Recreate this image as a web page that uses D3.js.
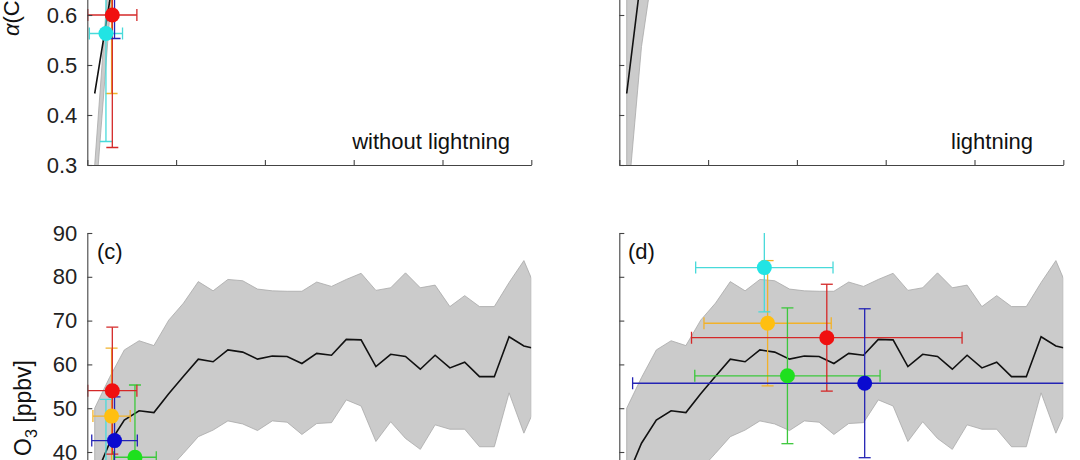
<!DOCTYPE html>
<html><head><meta charset="utf-8">
<script src="https://cdn.jsdelivr.net/npm/d3@7"></script>
<style>
body{margin:0;background:#fff}
text{font-family:"Liberation Sans",Arial,Helvetica,sans-serif}
</style>
</head><body>
<svg id="fig" width="1080" height="460"></svg>
<script>
// ---------- data ----------
const xTicks = [0, 30, 60, 90, 120, 150];
const alphaTicks = [0.3, 0.4, 0.5, 0.6];
const o3Ticks = [40, 50, 60, 70, 80, 90];

// O3 model band (same in c and d)
const binX = [2.5, 7.5, 12.5, 17.5, 22.5, 27.5, 32.5, 37.5, 42.5, 47.5, 52.5, 57.5, 62.5, 67.5, 72.5,
  77.5, 82.5, 87.5, 92.5, 97.5, 102.5, 107.5, 112.5, 117.5, 122.5, 127.5, 132.5, 137.5, 142.5, 147.5, 150];
const o3Mean = [34, 42, 47.3, 49.4, 49.0, 53.3, 57.3, 61.2, 60.6, 63.3, 62.8, 61.2, 61.9, 61.8, 60.2,
  62.5, 62.1, 65.7, 65.6, 59.5, 62.3, 61.8, 58.9, 62.1, 59.2, 60.5, 57.2, 57.2, 66.3, 64.2, 63.8];
const o3Hi = [50.0, 57.0, 63.3, 65.4, 64.3, 70.1, 74.0, 78.9, 76.8, 79.4, 79.1, 77.2, 76.8, 76.7, 76.7,
  78.8, 77.8, 79.4, 80.8, 76.9, 77.5, 80.9, 77.5, 78.1, 73.2, 75.7, 73.2, 73.2, 78.7, 83.7, 79.7];
const o3Lo = [30.0, 30.5, 31.5, 33.0, 34.5, 36.0, 39.7, 43.5, 45.0, 47.1, 46.4, 44.9, 47.1, 46.8, 44.0,
  46.5, 46.7, 51.9, 50.5, 42.4, 46.9, 43.1, 40.6, 46.2, 45.2, 45.2, 41.2, 41.2, 53.5, 44.3, 48.1];

// alpha band (top panels, only the start is inside the picture)
const alphaX = [2.5, 7.5, 12.5, 17.5, 22.5, 27.5];
const alphaMeanNo = [0.443, 0.625, 0.85, 0.88, 0.90, 0.91];
const alphaHiNo   = [0.300, 0.706, 0.95, 0.98, 1.00, 1.01];
const alphaLoNo   = [0.208, 0.592, 0.80, 0.84, 0.86, 0.87];
const alphaMeanL  = [0.443, 0.683, 0.86, 0.90, 0.92, 0.93];
const alphaHiL    = [0.720, 0.900, 1.00, 1.03, 1.05, 1.06];
const alphaLoL    = [0.202, 0.537, 0.737, 0.80, 0.82, 0.83];

// observations (order: orange, green, cyan, red, blue)
const obsFill   = ["#ffbf10", "#1ee01e", "#22e4e4", "#f01010", "#0a0ad0"];
const obsStroke = ["#f2b22a", "#3cc83c", "#48dada", "#d42828", "#2424b4"];
const xNo      = [8.2, 16.1, 6.3, 8.45, 9.2];
const xErrNo   = [6.3, 7.2, 5.6, 8.3, 7.7];
const alphaNo  = [0.72, 0.80, 0.563, 0.600, 0.76];
const alphaErrNo = [0.277, 0.13, 0.216, 0.265, 0.207];
const o3No     = [48.2, 38.8, 34.0, 54.0, 42.6];
const o3ErrNo  = [15.5, 16.5, 18.0, 14.5, 10.0];
const xL       = [50.1, 56.8, 49.0, 70.1, 82.9];
const xErrL    = [21.5, 31.3, 23.2, 45.7, 78.4];
const o3L      = [69.4, 57.4, 82.1, 66.1, 55.7];
const o3ErrL   = [14.3, 15.5, 10.1, 12.2, 17.0];

// ---------- drawing ----------
const svg = d3.select("#fig");
svg.append("rect").attr("width",1080).attr("height",460).attr("fill","#fff");

const axisCol = "#444", txtCol = "#222", FS = 22;
const xLeft  = d3.scaleLinear([0,150],[87.3,531.3]);
const xRight = d3.scaleLinear([0,150],[619.3,1063.3]);
const yAlpha = d3.scaleLinear([0.3,1.1],[165,-235]);
const yO3    = d3.scaleLinear([20,90],[539.6,233]);

let clipN = 0;
function panel(x, y, opt){
  const id = "clip"+(clipN++);
  const [x0,x1] = x.range(), [yb,yt] = y.range();
  svg.append("clipPath").attr("id",id).append("rect")
    .attr("x",x0).attr("y",yt).attr("width",x1-x0).attr("height",yb-yt);
  const g = svg.append("g").attr("clip-path",`url(#${id})`);
  const pts = opt.bx.map((v,i)=>({x:v, lo:opt.lo[i], hi:opt.hi[i], m:opt.mean[i]}));
  g.append("path").datum(pts)
    .attr("d", d3.area().x(d=>x(d.x)).y0(d=>y(d.lo)).y1(d=>y(d.hi)))
    .attr("fill","#cbcbcb").attr("stroke","#a8a8a8").attr("stroke-width",0.8);
  g.append("path").datum(pts)
    .attr("d", d3.line().x(d=>x(d.x)).y(d=>y(d.m)))
    .attr("fill","none").attr("stroke","#111").attr("stroke-width",1.6);
  if (opt.ox){
    const cap = 6;
    opt.ox.forEach((xv,i)=>{
      const yv = opt.oy[i], ex = opt.oxe[i], ey = opt.oye[i];
      const eb = g.append("g").attr("stroke",obsStroke[i]).attr("stroke-width",1.3).attr("fill","none");
      eb.append("line").attr("x1",x(xv-ex)).attr("x2",x(xv+ex)).attr("y1",y(yv)).attr("y2",y(yv));
      eb.append("line").attr("x1",x(xv-ex)).attr("x2",x(xv-ex)).attr("y1",y(yv)-cap).attr("y2",y(yv)+cap);
      eb.append("line").attr("x1",x(xv+ex)).attr("x2",x(xv+ex)).attr("y1",y(yv)-cap).attr("y2",y(yv)+cap);
      eb.append("line").attr("x1",x(xv)).attr("x2",x(xv)).attr("y1",y(yv-ey)).attr("y2",y(yv+ey));
      eb.append("line").attr("x1",x(xv)-cap).attr("x2",x(xv)+cap).attr("y1",y(yv-ey)).attr("y2",y(yv-ey));
      eb.append("line").attr("x1",x(xv)-cap).attr("x2",x(xv)+cap).attr("y1",y(yv+ey)).attr("y2",y(yv+ey));
    });
    opt.ox.forEach((xv,i)=>{
      g.append("circle").attr("cx",x(xv)).attr("cy",y(opt.oy[i])).attr("r",7.5)
        .attr("fill",obsFill[i]).attr("stroke","none");
    });
  }
  const ya = d3.axisLeft(y).tickValues(opt.yt).tickSizeInner(-5).tickSizeOuter(0).tickPadding(10);
  ya.tickFormat(opt.ylabels ? opt.fmt : "");
  const gy = svg.append("g").attr("transform",`translate(${x0},0)`).call(ya);
  const xa = d3.axisBottom(x).tickValues(xTicks).tickSizeInner(-5).tickSizeOuter(0).tickFormat("");
  const gx = svg.append("g").attr("transform",`translate(0,${yb})`).call(xa);
  [gy,gx].forEach(a=>{
    a.select(".domain").attr("stroke",axisCol).attr("stroke-width",1.1);
    a.selectAll(".tick line").attr("stroke",axisCol).attr("stroke-width",1.1);
    a.selectAll(".tick text").attr("fill",txtCol).attr("font-size",FS)
      .attr("font-family","Liberation Sans, Arial, sans-serif");
  });
}

panel(xLeft, yAlpha, {bx:alphaX, lo:alphaLoNo, hi:alphaHiNo, mean:alphaMeanNo,
  ox:xNo, oxe:xErrNo, oy:alphaNo, oye:alphaErrNo, yt:alphaTicks, ylabels:true, fmt:d3.format(".1f")});
panel(xRight, yAlpha, {bx:alphaX, lo:alphaLoL, hi:alphaHiL, mean:alphaMeanL, yt:alphaTicks, ylabels:false});
panel(xLeft, yO3, {bx:binX, lo:o3Lo, hi:o3Hi, mean:o3Mean,
  ox:xNo, oxe:xErrNo, oy:o3No, oye:o3ErrNo, yt:o3Ticks, ylabels:true, fmt:d3.format("d")});
panel(xRight, yO3, {bx:binX, lo:o3Lo, hi:o3Hi, mean:o3Mean,
  ox:xL, oxe:xErrL, oy:o3L, oye:o3ErrL, yt:o3Ticks, ylabels:false});

const T = (x,y,s,anchor)=>svg.append("text").attr("x",x).attr("y",y).attr("font-size",FS)
  .attr("fill","#111").attr("text-anchor",anchor||"start").text(s);
T(510,149,"without lightning","end");
T(1033,149,"lightning","end");
T(97,259,"(c)");
T(628,259,"(d)");

const yl1 = svg.append("text").attr("transform","translate(19,36) rotate(-90)")
  .attr("font-size",FS).attr("fill","#111").attr("text-anchor","start");
yl1.append("tspan").attr("font-style","italic").text("α");
yl1.append("tspan").text("(CH");
yl1.append("tspan").attr("font-size",FS*0.7).attr("dy",5).text("2");
yl1.append("tspan").attr("dy",-5).text("O)");

const yl2 = svg.append("text").attr("transform","translate(31,408) rotate(-90)")
  .attr("font-size",23).attr("fill","#111").attr("text-anchor","middle");
yl2.append("tspan").text("O");
yl2.append("tspan").attr("font-size",16).attr("dy",6).text("3");
yl2.append("tspan").attr("dy",-6).text(" [ppbv]");
</script>
</body></html>
